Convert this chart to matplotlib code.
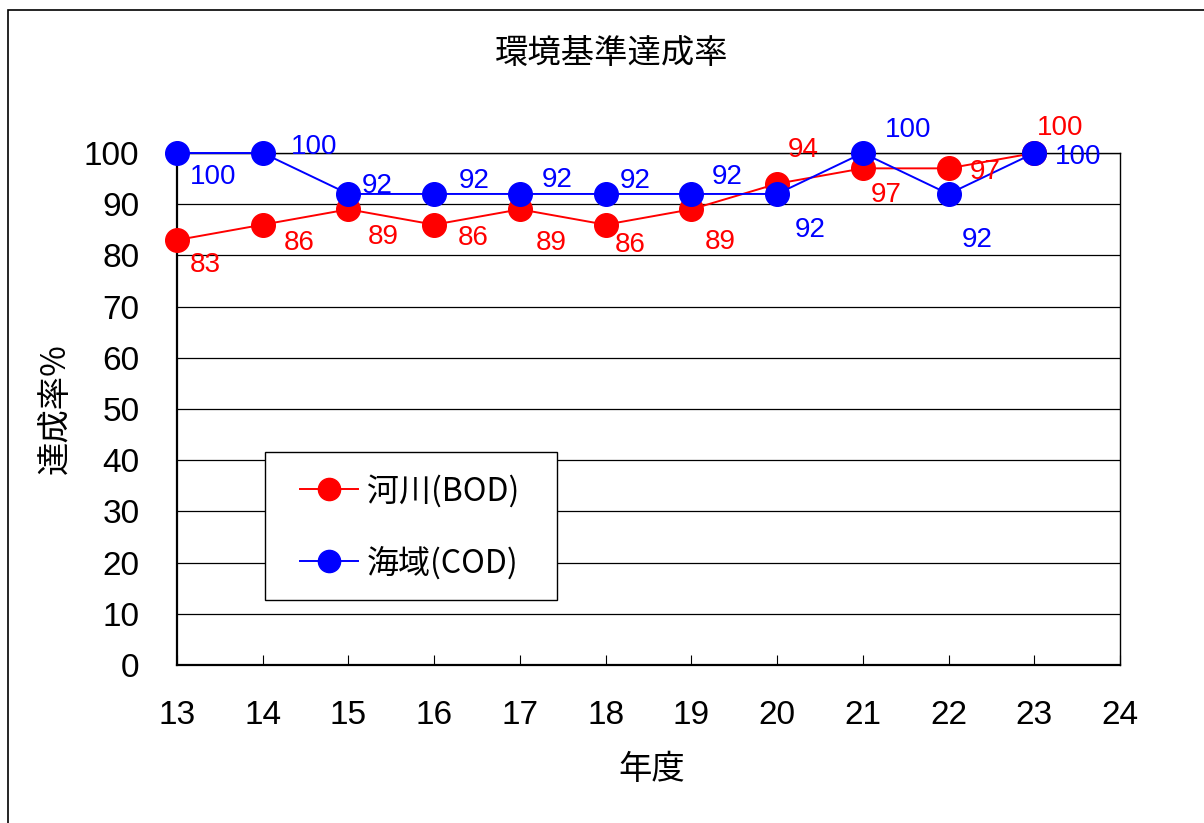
import matplotlib
matplotlib.use('Agg')
import matplotlib.pyplot as plt
from matplotlib import patches
from matplotlib.lines import Line2D

plt.rcParams['font.family'] = ['Noto Sans CJK JP', 'DejaVu Sans']

# achievement rate of environmental quality standards (%)
years = [13, 14, 15, 16, 17, 18, 19, 20, 21, 22, 23]
river_bod = [83, 86, 89, 86, 89, 86, 89, 94, 97, 97, 100]
sea_cod = [100, 100, 92, 92, 92, 92, 92, 92, 100, 92, 100]
series_names = ['河川(BOD)', '海域(COD)']
y_ticks = [0, 10, 20, 30, 40, 50, 60, 70, 80, 90, 100]
x_ticks = [13, 14, 15, 16, 17, 18, 19, 20, 21, 22, 23, 24]

# where each value label sits relative to its marker (pixels, up is positive)
river_label_off = [(28, -25), (36, -18), (35, -28), (39, -13), (31, -34), (25, -20),
                   (29, -33), (26, 34), (23, -27), (37, -4), (26, 25)]
sea_label_off = [(36, -24), (51, 6), (29, 8), (40, 13), (37, 14), (30, 13),
                 (36, 17), (33, -36), (45, 23), (29, -46), (44, -4)]

num_font = ['Liberation Sans Narrow', 'Liberation Sans', 'DejaVu Sans']
jp_font = ['Noto Sans CJK JP', 'DejaVu Sans']

W, H = 1204, 823
fig = plt.figure(figsize=(W / 100, H / 100), dpi=100)
fig.patch.set_facecolor('white')

# outer chart-area border (runs off the right and bottom edges)
fig.add_artist(patches.Rectangle((8 / W, -0.5), 2, (1 - 10 / H) + 0.5,
                                 transform=fig.transFigure, fill=False,
                                 ec='black', lw=1.2))

ax = fig.add_axes([177 / W, 1 - 665 / H, (1120 - 177) / W, (665 - 153) / H])
ax.set_xlim(13, 24)
ax.set_ylim(0, 100)
ax.set_xticks(x_ticks)
ax.set_yticks(y_ticks)
ax.yaxis.grid(True, color='black', lw=0.9)
ax.set_axisbelow(True)

for s in ['left', 'bottom']:
    ax.spines[s].set_linewidth(1.6)
for s in ['top', 'right']:
    ax.spines[s].set_linewidth(1.0)

ax.tick_params(axis='x', direction='in', length=7, width=0.8, pad=25,
               labelsize=24)
ax.tick_params(axis='y', length=0, pad=27, labelsize=24)
for lab in ax.get_xticklabels() + ax.get_yticklabels():
    lab.set_family(num_font)

ax.plot(years, river_bod, color='red', lw=1.4, marker='o', ms=17,
        mec='red', mfc='red', zorder=3, clip_on=False)
ax.plot(years, sea_cod, color='blue', lw=1.4, marker='o', ms=17,
        mec='blue', mfc='blue', zorder=4, clip_on=False)

for x, v, off in zip(years, river_bod, river_label_off):
    ax.annotate(str(v), (x, v), xytext=off, textcoords='offset pixels',
                ha='center', va='center', color='red', fontsize=20,
                family=num_font, zorder=5)
for x, v, off in zip(years, sea_cod, sea_label_off):
    ax.annotate(str(v), (x, v), xytext=off, textcoords='offset pixels',
                ha='center', va='center', color='blue', fontsize=20,
                family=num_font, zorder=5)

fig.text(612 / W, 1 - 54 / H, '環境基準達成率', ha='center', va='center',
         fontsize=24, family=jp_font)
ax.set_xlabel('年度', fontsize=24, family=jp_font, va='center')
ax.xaxis.set_label_coords((652 - 177) / (1120 - 177), -(770 - 665) / (665 - 153))
ax.set_ylabel('達成率%', fontsize=24, family=jp_font, va='center')
ax.yaxis.set_label_coords((55 - 177) / (1120 - 177), 0.5)

# legend box drawn separately so its size can be set exactly
fig.add_artist(patches.Rectangle((265 / W, 1 - 600 / H), 292 / W, 148 / H,
                                 transform=fig.transFigure, fc='white',
                                 ec='black', lw=1.0, zorder=4))
handles = [Line2D([], [], color='red', lw=1.4, marker='o', ms=16),
           Line2D([], [], color='blue', lw=1.4, marker='o', ms=16)]
leg = fig.legend(handles, series_names, loc='center left',
                 bbox_to_anchor=(300 / W, 1 - 527 / H),
                 fontsize=23, frameon=False, borderpad=0,
                 handlelength=1.8, handletextpad=0.3, labelspacing=1.22,
                 borderaxespad=0)
leg.set_zorder(5)

fig.savefig('out.png', dpi=100)
